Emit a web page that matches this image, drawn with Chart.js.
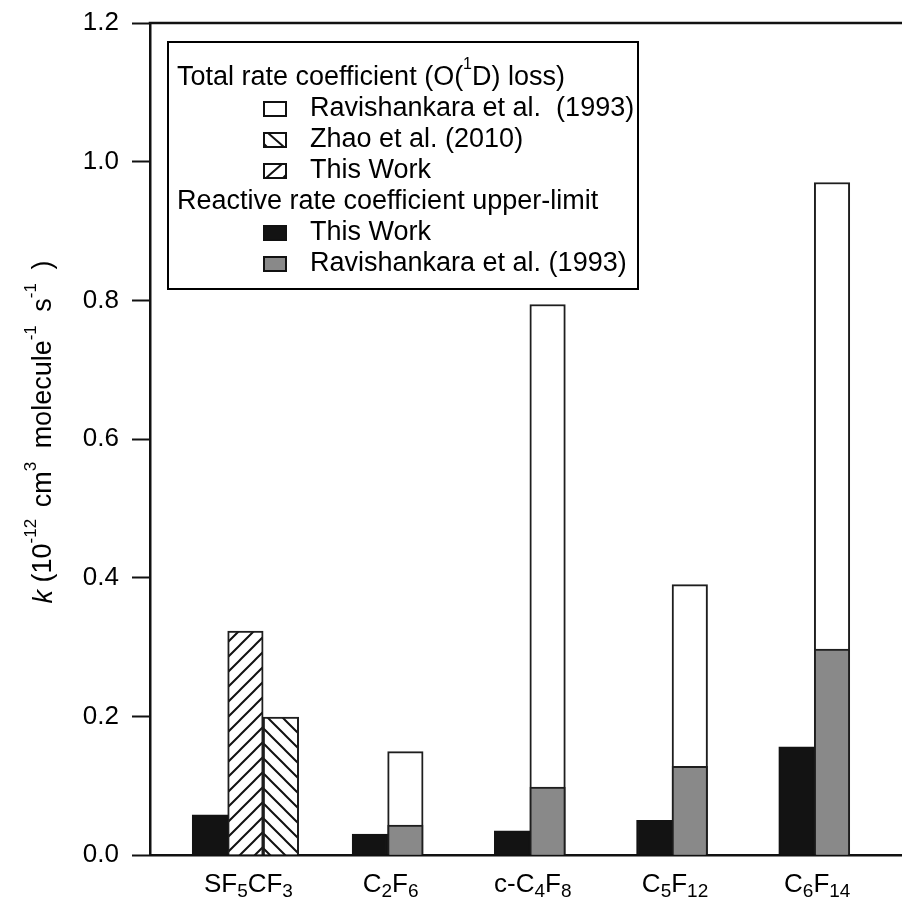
<!DOCTYPE html>
<html><head><meta charset="utf-8">
<script src="https://cdn.jsdelivr.net/npm/chart.js@4.4.1/dist/chart.umd.min.js"></script>
<style>html,body{margin:0;padding:0;background:#fff}#wrap{width:902px;height:912px}</style>
</head><body><div id="wrap"><canvas id="c" width="902" height="912"></canvas></div>
<script>
// ---- data ----
const categories = ['SF5CF3', 'C2F6', 'c-C4F8', 'C5F12', 'C6F14'];
const reactiveThisWork = [0.058, 0.030, 0.035, 0.050, 0.156];
const totalThisWork = [0.323, null, null, null, null];
const totalZhao = [0.199, null, null, null, null];
const reactiveRavishankara = [null, 0.043, 0.098, 0.128, 0.297];
const totalRavishankara = [null, 0.149, 0.794, 0.390, 0.970];
const yTickValues = [0, 0.2, 0.4, 0.6, 0.8, 1.0, 1.2];

const FONT = '"Liberation Sans", Arial, Helvetica, sans-serif';

function makeHatch(dir) {
  const p = 15;
  const c = document.createElement('canvas');
  c.width = p; c.height = p;
  const g = c.getContext('2d');
  g.fillStyle = '#fff'; g.fillRect(0, 0, p, p);
  g.strokeStyle = '#111'; g.lineWidth = 2;
  g.beginPath();
  if (dir === '/') {
    g.moveTo(-2, p + 2); g.lineTo(p + 2, -2);
    g.moveTo(-2, 2); g.lineTo(2, -2);
    g.moveTo(p - 2, p + 2); g.lineTo(p + 2, p - 2);
  } else {
    g.moveTo(-2, -2); g.lineTo(p + 2, p + 2);
    g.moveTo(p - 2, -2); g.lineTo(p + 2, 2);
    g.moveTo(-2, p - 2); g.lineTo(2, p + 2);
  }
  g.stroke();
  return document.getElementById('c').getContext('2d').createPattern(c, 'repeat');
}
const hatchFwd = makeHatch('/');
const hatchBack = makeHatch('\\');

const toPts = arr => arr.map((v, i) => ({ x: i, y: v })).filter(p => p.y !== null);

const common = { barThickness: 35.5, borderWidth: 2, borderColor: '#1e1e1e', skipNull: true, borderSkipped: 'start' };

const datasets = [
  Object.assign({ label: 'Reactive - This Work', data: toPts(reactiveThisWork), backgroundColor: '#131313', stack: 'A' }, common, { borderColor: '#131313' }),
  Object.assign({ label: 'Total - This Work', data: toPts(totalThisWork), backgroundColor: hatchFwd, stack: 'B' }, common),
  Object.assign({ label: 'Reactive - Ravishankara et al. (1993)', data: toPts(reactiveRavishankara), backgroundColor: '#898989', stack: 'B' }, common),
  Object.assign({ label: 'Total - Ravishankara et al. (1993)', data: toPts(totalRavishankara), backgroundColor: '#ffffff', stack: 'B' }, common),
  Object.assign({ label: 'Total - Zhao et al. (2010)', data: toPts(totalZhao), backgroundColor: hatchBack, stack: 'C' }, common)
];

function drawSegments(ctx, segs, cx, cy) {
  let total = 0;
  segs.forEach(s => { ctx.font = s.font; s.w = ctx.measureText(s.t).width + (s.gap || 0); total += s.w; });
  let x = cx - total / 2;
  segs.forEach(s => { ctx.font = s.font; ctx.fillText(s.t, x, cy + (s.dy || 0)); x += s.w; });
}

function formulaSegs(name, base, sub) {
  const parts = name.match(/\d+|\D+/g);
  return parts.map(p => /\d/.test(p) ? { t: p, font: sub + 'px ' + FONT, dy: 7 } : { t: p, font: base + 'px ' + FONT, dy: 0 });
}

const decor = {
  id: 'decor',
  afterDraw(chart) {
    const ctx = chart.ctx;
    const a = chart.chartArea;
    ctx.save();
    // top frame line
    ctx.strokeStyle = '#111'; ctx.lineWidth = 2.5;
    ctx.beginPath(); ctx.moveTo(a.left - 1.25, a.top); ctx.lineTo(chart.width, a.top); ctx.stroke();

    // x category labels with subscripts
    ctx.fillStyle = '#000'; ctx.textBaseline = 'middle'; ctx.textAlign = 'left';
    const xs = chart.scales.x;
    categories.forEach((c, i) => {
      drawSegments(ctx, formulaSegs(c, 26, 19), xs.getPixelForValue(i) + 3, a.bottom + 30);
    });

    // y axis title
    ctx.save();
    ctx.translate(44, 432);
    ctx.rotate(-Math.PI / 2);
    const b = '27px ' + FONT, sp = '17px ' + FONT;
    drawSegments(ctx, [
      { t: 'k', font: 'italic 27px ' + FONT },
      { t: ' (10', font: b },
      { t: '-12', font: sp, dy: -13, gap: 4 },
      { t: ' cm', font: b },
      { t: '3', font: sp, dy: -13, gap: 6 },
      { t: ' molecule', font: b },
      { t: '-1', font: sp, dy: -13, gap: 6 },
      { t: ' s', font: b },
      { t: '-1', font: sp, dy: -13, gap: 6 },
      { t: ' )', font: b }
    ], 0, 0);
    ctx.restore();

    // legend
    const L = { x: 168, y: 42, w: 470, h: 247 };
    ctx.fillStyle = '#fff'; ctx.fillRect(L.x, L.y, L.w, L.h);
    ctx.strokeStyle = '#000'; ctx.lineWidth = 2;
    ctx.strokeRect(L.x, L.y, L.w, L.h);
    ctx.fillStyle = '#000';
    const lf = '27px ' + FONT;
    const rows = [78, 109, 140, 171, 202, 233, 264];
    ctx.textAlign = 'left';
    let x = 177;
    const h1 = [
      { t: 'Total rate coefficient (O(', font: lf },
      { t: '1', font: '16px ' + FONT, dy: -13 },
      { t: 'D) loss)', font: lf }
    ];
    h1.forEach(s => { ctx.font = s.font; ctx.fillText(s.t, x, rows[0] + (s.dy || 0)); x += ctx.measureText(s.t).width; });
    ctx.font = lf;
    ctx.fillText('Reactive rate coefficient upper-limit', 177, rows[4]);
    const items = [
      { r: 1, text: 'Ravishankara et al.  (1993)', fill: '#fff' },
      { r: 2, text: 'Zhao et al. (2010)', fill: '#fff', hatch: '\\' },
      { r: 3, text: 'This Work', fill: '#fff', hatch: '/' },
      { r: 5, text: 'This Work', fill: '#131313' },
      { r: 6, text: 'Ravishankara et al. (1993)', fill: '#898989' }
    ];
    items.forEach(it => {
      const cy = rows[it.r];
      const sx = 264, sw = 22, sh = 14, sy = cy - sh / 2;
      ctx.fillStyle = it.fill; ctx.fillRect(sx, sy, sw, sh);
      ctx.strokeStyle = '#111'; ctx.lineWidth = 2;
      ctx.strokeRect(sx, sy, sw, sh);
      if (it.hatch) {
        ctx.save();
        ctx.beginPath(); ctx.rect(sx, sy, sw, sh); ctx.clip();
        ctx.beginPath();
        if (it.hatch === '/') { ctx.moveTo(sx + 2, sy + sh); ctx.lineTo(sx + sw - 4, sy); ctx.moveTo(sx + sw - 3, sy + sh); ctx.lineTo(sx + sw, sy + sh - 3); }
        else { ctx.moveTo(sx + 4, sy); ctx.lineTo(sx + sw - 2, sy + sh); ctx.moveTo(sx, sy + sh - 3); ctx.lineTo(sx + 3, sy + sh); }
        ctx.stroke();
        ctx.restore();
      }
      ctx.fillStyle = '#000'; ctx.font = lf;
      ctx.fillText(it.text, 310, cy);
    });
    ctx.restore();
  }
};

new Chart(document.getElementById('c'), {
  type: 'bar',
  data: { datasets },
  options: {
    responsive: false,
    animation: false,
    devicePixelRatio: 1,
    layout: { padding: { top: 23, right: 0, left: 0, bottom: 0 } },
    plugins: { legend: { display: false }, tooltip: { enabled: false }, title: { display: false } },
    scales: {
      x: {
        type: 'linear', stacked: true, offset: false,
        min: -0.671, max: 4.617,
        grid: { display: false },
        border: { display: true, color: '#111', width: 2.5 },
        ticks: { display: false },
        afterFit: s => { s.height = 57; s.paddingLeft = 0; s.paddingRight = 0; }
      },
      y: {
        type: 'linear', stacked: false,
        min: 0, max: 1.2,
        afterBuildTicks: s => { s.ticks = yTickValues.map(v => ({ value: v })); },
        ticks: { callback: v => Number(v).toFixed(1), font: { family: FONT, size: 26 }, color: '#000', padding: 13 },
        grid: { drawOnChartArea: false, drawTicks: true, tickLength: 18, tickWidth: 2, tickColor: '#111' },
        border: { display: true, color: '#111', width: 2.5 },
        afterFit: s => { s.width = 150; s.paddingTop = 0; s.paddingBottom = 0; }
      }
    }
  },
  plugins: [decor]
});
</script></body></html>
